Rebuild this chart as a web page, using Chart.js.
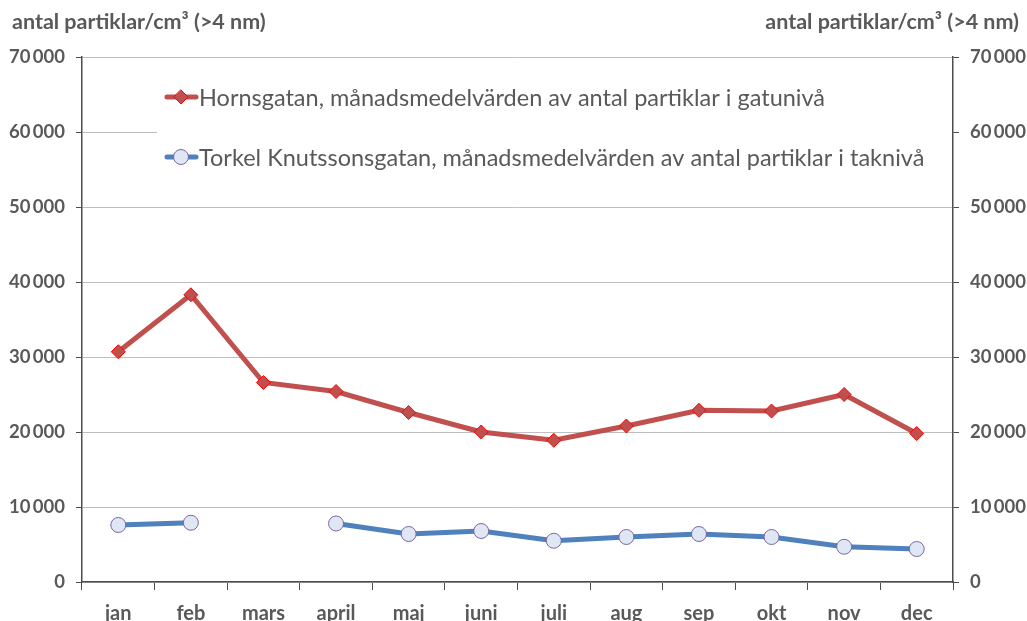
<!DOCTYPE html>
<html><head><meta charset="utf-8">
<script src="https://cdn.jsdelivr.net/npm/chart.js@4.4.0/dist/chart.umd.min.js"></script>
<style>html,body{margin:0;padding:0;background:#fff}#wrap{width:1027px;height:621px;position:relative}</style>
</head><body><div id="wrap"><canvas id="c" width="1027" height="621"></canvas></div>
<script>
const categories = ["jan","feb","mars","april","maj","juni","juli","aug","sep","okt","nov","dec"];
const hornsgatan = [30700,38300,26600,25400,22600,20000,18900,20800,22900,22800,25000,19800];
const torkel = [7600,7900,null,7800,6400,6800,5500,6000,6400,6000,4700,4400];
const seriesNames = ["Hornsgatan, månadsmedelvärden av antal partiklar i gatunivå","Torkel Knutssonsgatan, månadsmedelvärden av antal partiklar i taknivå"];
const axisTitle = "antal partiklar/cm³ (>4 nm)";
const yMax = 70000, yStep = 10000;

const FONT = "Lato, 'DejaVu Sans', sans-serif";
const GREY = "#595959";
const AXIS = "#4d4d4d";
const fmt = v => { const s = String(v); return s.length > 3 ? s.slice(0, s.length-3) + "\u2009" + s.slice(-3) : s; };

const legendPlugin = {
  id: 'boxLegend',
  beforeDatasetsDraw(chart) {
    const ctx = chart.ctx, a = chart.chartArea;
    ctx.save();
    ctx.fillStyle = '#fff';
    ctx.fillRect(157, a.top + 4, a.right - 158, 143);
    const items = [
      {y: 97, color: '#C0504D', ds: chart.data.datasets[0]},
      {y: 157, color: '#4F81BD', ds: chart.data.datasets[1]}
    ];
    items.forEach((it, i) => {
      ctx.strokeStyle = it.color; ctx.lineWidth = 5; ctx.lineCap = 'round';
      ctx.beginPath(); ctx.moveTo(167, it.y); ctx.lineTo(196, it.y); ctx.stroke();
      ctx.fillStyle = it.ds.pointBackgroundColor; ctx.strokeStyle = it.ds.pointBorderColor; ctx.lineWidth = 1;
      ctx.beginPath();
      if (i === 0) { const r = 7; ctx.moveTo(181, it.y - r); ctx.lineTo(181 + r, it.y); ctx.lineTo(181, it.y + r); ctx.lineTo(181 - r, it.y); ctx.closePath(); }
      else { ctx.arc(181, it.y, 7.5, 0, Math.PI * 2); }
      ctx.fill(); ctx.stroke();
      ctx.fillStyle = GREY; ctx.font = "23.5px " + FONT; ctx.textBaseline = 'middle'; ctx.textAlign = 'left';
      ctx.fillText(it.ds.label, 199, it.y + 1);
    });
    ctx.restore();
  },
  afterDraw(chart) {
    const ctx = chart.ctx;
    ctx.save();
    ctx.fillStyle = GREY; ctx.font = "bold 21.5px " + FONT; ctx.textBaseline = 'middle';
    ctx.textAlign = 'left'; ctx.fillText(axisTitle, 12, 22);
    ctx.textAlign = 'right'; ctx.fillText(axisTitle, 1019, 22);
    ctx.restore();
  }
};

const yTicks = { color: GREY, font: { family: FONT, size: 18.5, weight: 'bold' }, stepSize: yStep, callback: v => fmt(v), padding: 11 };

new Chart(document.getElementById('c'), {
  type: 'line',
  data: {
    labels: categories,
    datasets: [
      { label: seriesNames[0], data: hornsgatan, borderColor: '#C0504D', borderWidth: 5, backgroundColor: '#C0504D',
        pointStyle: 'rectRot', pointRadius: 7, pointBackgroundColor: '#C0504D', pointBorderColor: '#FF0000', pointBorderWidth: 1, tension: 0, yAxisID: 'y' },
      { label: seriesNames[1], data: torkel, borderColor: '#4F81BD', borderWidth: 5, backgroundColor: '#4F81BD',
        pointStyle: 'circle', pointRadius: 7.5, pointBackgroundColor: '#DFE6F4', pointBorderColor: '#8064A2', pointBorderWidth: 1, tension: 0, spanGaps: false, yAxisID: 'y' }
    ]
  },
  options: {
    responsive: false, animation: false, devicePixelRatio: 1,
    layout: { padding: { top: 57, bottom: 0, left: 0, right: 0 } },
    plugins: { legend: { display: false }, tooltip: { enabled: false } },
    scales: {
      x: {
        offset: true,
        grid: { drawOnChartArea: false, offset: true, color: AXIS, tickLength: 8, tickColor: AXIS },
        border: { color: AXIS, width: 1.5 },
        ticks: { color: GREY, font: { family: FONT, size: 20, weight: 'bold' }, padding: 12, maxRotation: 0 },
        afterFit: s => { s.height = 39; }
      },
      y: {
        position: 'left', min: 0, max: yMax,
        grid: { color: '#BFBFBF', lineWidth: 1, tickLength: 6, tickColor: AXIS },
        border: { color: AXIS, width: 1.5 },
        ticks: yTicks,
        afterFit: s => { s.width = 82; }
      },
      y2: {
        position: 'right', min: 0, max: yMax,
        grid: { drawOnChartArea: false, tickLength: 6, color: AXIS },
        border: { color: AXIS, width: 1.5 },
        ticks: yTicks,
        afterFit: s => { s.width = 74; }
      }
    }
  },
  plugins: [legendPlugin]
});
</script></body></html>
